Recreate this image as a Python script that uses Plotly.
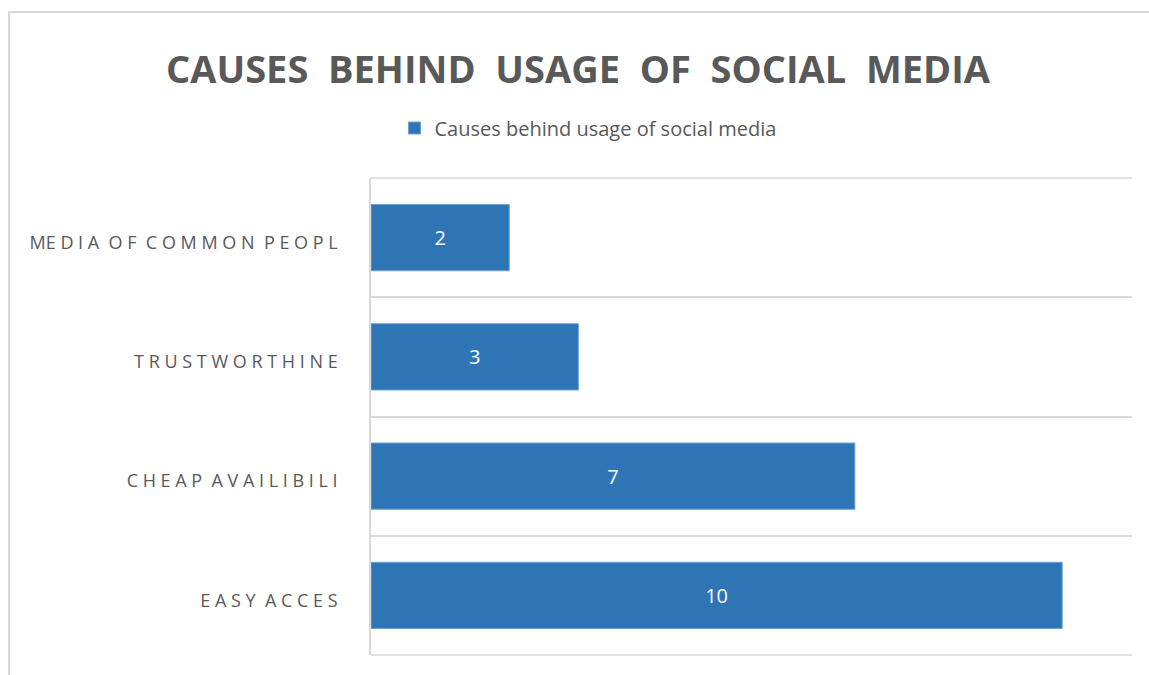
import plotly.graph_objects as go

# Data (bottom to top as drawn by plotly)
categories = ["EASY ACCES", "CHEAP AVAILIBILI", "TRUSTWORTHINE", "MEDIA OF COMMON PEOPL"]
tick_labels = ["E A S Y  A C C E S", "C H E A P  A V A I L I B I L I", "T R U S T W O R T H I N E", "ME D I A  O F  C O M M O N  P E O P L"]
values = [10, 7, 3, 2]
series_name = "Causes behind usage of social media"
title_text = "CAUSES  BEHIND  USAGE  OF  SOCIAL  MEDIA"

FONT = "Open Sans"
GRAY = "#595959"
LINE = "#d9d9d9"

fig = go.Figure()
fig.add_trace(go.Bar(
    y=categories,
    x=values,
    orientation="h",
    name=series_name,
    marker=dict(color="#2E75B6", line=dict(color="#6fa0d4", width=1)),
    text=[str(v) for v in values],
    textposition="inside",
    insidetextanchor="middle",
    textfont=dict(family=FONT, size=20, color="white"),
    showlegend=True,
))

fig.update_layout(
    width=1149, height=675,
    paper_bgcolor="white", plot_bgcolor="white",
    margin=dict(l=371, r=17, t=178, b=20),
    bargap=0.445,
    title=dict(text=title_text, x=578 / 1149, xanchor="center", y=1 - 70 / 675, yanchor="middle",
               yref="container", xref="container",
               font=dict(family=FONT, size=38, color=GRAY, weight="bold")),
    legend=dict(orientation="h", x=588 / 1149, xanchor="center", y=1 - 128 / 675, yanchor="middle",
                xref="container", yref="container", font=dict(family=FONT, size=20, color=GRAY),
                itemwidth=30, bgcolor="rgba(0,0,0,0)"),
    xaxis=dict(range=[0, 11.01], showticklabels=False, showgrid=False, zeroline=False,
               showline=False, ticks=""),
    yaxis=dict(type="category", categoryorder="array", categoryarray=categories,
               tickmode="array", tickvals=categories, ticktext=tick_labels,
               tickson="boundaries", showgrid=True, gridcolor=LINE, gridwidth=1.5,
               showline=True, linecolor=LINE, linewidth=1.5, ticks="", ticklen=0,
               ticklabelstandoff=28, ticklabelshift=5,
               tickfont=dict(family=FONT, size=18, color=GRAY), zeroline=False),
    shapes=[dict(type="rect", xref="paper", yref="paper",
                 x0=(9 - 371) / 761, x1=1.2, y0=-0.2, y1=(655 - 12) / 477,
                 line=dict(color=LINE, width=2), fillcolor="rgba(0,0,0,0)", layer="below"),
            dict(type="line", xref="paper", yref="paper", x0=0, x1=1, y0=1, y1=1,
                 line=dict(color=LINE, width=1.5)),
            dict(type="line", xref="paper", yref="paper", x0=0, x1=1, y0=0, y1=0,
                 line=dict(color=LINE, width=1.5))],
)

fig.write_html("out.html", config={"displayModeBar": False},
               post_script="document.body.style.margin='0';document.body.style.overflow='hidden';")
